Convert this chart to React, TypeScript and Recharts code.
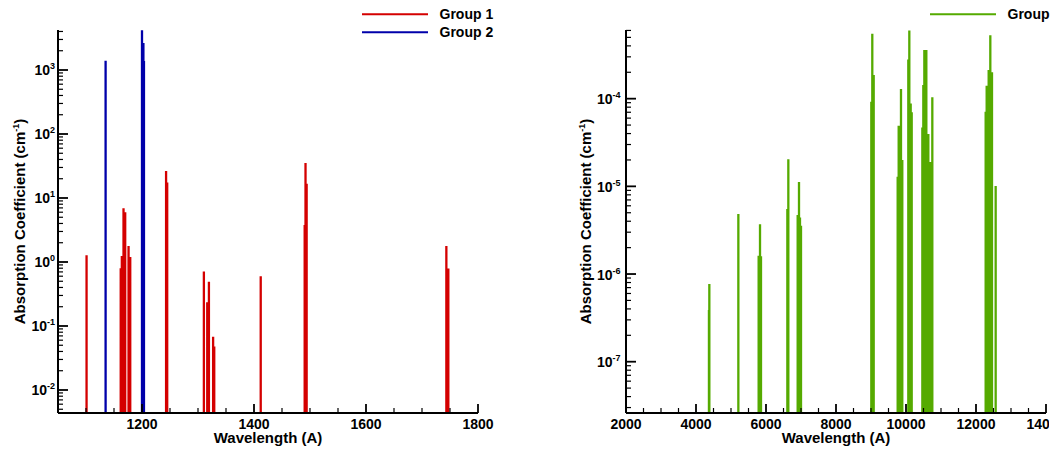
import { LineChart, Line, XAxis, YAxis, Label } from 'recharts';

const FONT = '"Liberation Sans", Arial, Helvetica, sans-serif';

// left panel, group 1 lines (wavelength A, absorption cm^-1)
const G1_WAVELENGTH = [1101, 1162, 1164, 1167, 1170, 1176, 1179, 1243, 1245, 1310.5, 1316.5, 1319.5, 1327, 1329, 1412, 1490.5, 1492, 1494, 1743.5, 1747];
const G1_COEFF = [1.27, 0.8, 1.24, 6.9, 6.0, 1.78, 1.2, 26.5, 17.4, 0.71, 0.235, 0.49, 0.068, 0.048, 0.6, 3.8, 35.2, 16.7, 1.78, 0.79];

// left panel, group 2 lines
const G2_WAVELENGTH = [1135, 1200, 1202.5, 1203.5];
const G2_COEFF = [1400, 4170, 2650, 1380];

// right panel, single group
const GR_WAVELENGTH = [
  4370, 4381, 5210, 5790, 5829, 5857, 6610, 6638, 6905, 6943, 6971, 7000,
  9009, 9037, 9077, 9762, 9791, 9809, 9857, 9894, 10066, 10095, 10134, 10163,
  10467, 10495, 10524, 10552, 10581, 10638, 10686, 10752,
  12276, 12305, 12362, 12409, 12457, 12562,
];
const GR_COEFF = [
  3.9e-7, 7.7e-7, 4.84e-6, 1.62e-6, 3.7e-6, 1.6e-6, 5.5e-6, 2.04e-5, 4.7e-6, 1.12e-5, 4.4e-6, 3.55e-6,
  9.2e-5, 5.5e-4, 1.86e-4, 1.29e-5, 4.9e-5, 2.04e-5, 1.29e-4, 2.0e-5, 2.8e-4, 6.0e-4, 8.8e-5, 7.0e-5,
  4.7e-5, 1.43e-4, 3.6e-4, 3.6e-4, 3.6e-4, 3.96e-5, 1.9e-5, 1.04e-4,
  7.1e-5, 1.4e-4, 2.12e-4, 5.3e-4, 2.0e-4, 1.01e-5,
];

// axes
const LEFT_X_DOMAIN = [1050, 1800];
const LEFT_X_MAJOR = [1200, 1400, 1600, 1800];
const LEFT_X_MINOR = [1100, 1150, 1250, 1300, 1350, 1450, 1500, 1550, 1650, 1700, 1750];
const LEFT_Y_DOMAIN = [0.00437, 4217];
const LEFT_Y_DECADES = [-3, -2, -1, 0, 1, 2, 3];

const RIGHT_X_DOMAIN = [2000, 14000];
const RIGHT_X_MAJOR = [2000, 4000, 6000, 8000, 10000, 12000, 14000];
const RIGHT_X_MINOR = [2500, 3000, 3500, 4500, 5000, 5500, 6500, 7000, 7500, 8500, 9000, 9500, 10500, 11000, 11500, 12500, 13000, 13500];
const RIGHT_Y_DOMAIN = [2.6e-8, 6.07e-4];
const RIGHT_Y_DECADES = [-8, -7, -6, -5, -4];

const RED = '#d40000';
const BLUE = '#0000aa';
const GREEN = '#55aa00';

// each line becomes a vertical spike rising from below the axis floor
function spikes(wl: number[], k: number[], floor: number) {
  const pts: { x: number; y: number }[] = [];
  wl.forEach((w, i) => {
    pts.push({ x: w, y: floor }, { x: w, y: k[i] }, { x: w, y: floor });
  });
  return pts;
}

function logTicks(decades: number[], domain: number[]) {
  const out: number[] = [];
  decades.forEach((d) => {
    for (let m = 1; m <= 9; m++) {
      const v = m * Math.pow(10, d);
      if (v >= domain[0] && v <= domain[1]) out.push(v);
    }
  });
  return out;
}

const makeYTick = (gap: number) => (props: any) => {
  const { x, y, payload } = props;
  const e = Math.log10(payload.value);
  const major = Math.abs(e - Math.round(e)) < 1e-6;
  return (
    <g>
      <line x1={x} y1={y} x2={x + (major ? 10 : 5)} y2={y} stroke="#000" strokeWidth={major ? 1.8 : 1.2} />
      {major && (
        <text x={x - gap} y={y + 5.5} textAnchor="end" fontFamily={FONT} fontWeight="bold" fontSize={14} fill="#000">
          10<tspan dy={-6} fontSize={9}>{String(Math.round(e))}</tspan>
        </text>
      )}
    </g>
  );
};

const makeXTick = (majors: number[]) => (props: any) => {
  const { x, y, payload } = props;
  const major = majors.includes(payload.value);
  return (
    <g>
      <line x1={x} y1={y} x2={x} y2={y - (major ? 9 : 5)} stroke="#000" strokeWidth={major ? 1.8 : 1.2} />
      {major && (
        <text x={x} y={y + 16} textAnchor="middle" fontFamily={FONT} fontWeight="bold" fontSize={14} fill="#000">
          {payload.value}
        </text>
      )}
    </g>
  );
};

const XTitle = (props: any) => {
  const vb = props.viewBox;
  return (
    <text x={vb.x + vb.width / 2} y={vb.y + 30} textAnchor="middle" fontFamily={FONT} fontWeight="bold" fontSize={15} fill="#000">
      Wavelength (A)
    </text>
  );
};

const makeYTitle = (baseX: number) => (props: any) => {
  const vb = props.viewBox;
  const cx = vb.x + baseX;
  const cy = vb.y + vb.height / 2;
  return (
    <text x={cx} y={cy} transform={`rotate(-90, ${cx}, ${cy})`} textAnchor="middle" fontFamily={FONT} fontWeight="bold" fontSize={15} fill="#000">
      Absorption Coefficient (cm<tspan dy={-6} fontSize={9}>-1</tspan><tspan dy={6}>)</tspan>
    </text>
  );
};

const axisLine = { stroke: '#000', strokeWidth: 2 };

export default function App() {
  const g1 = spikes(G1_WAVELENGTH, G1_COEFF, 1e-4);
  const g2 = spikes(G2_WAVELENGTH, G2_COEFF, 1e-4);
  const gr = spikes(GR_WAVELENGTH, GR_COEFF, 1e-9);

  return (
    <div style={{ position: 'absolute', left: 0, top: 0, width: 1057, height: 455, background: '#fff', overflow: 'hidden' }}>
      <div style={{ position: 'absolute', left: 0, top: 0, width: 520, height: 455, overflow: 'hidden' }}>
        <LineChart width={520} height={455} margin={{ top: 30, right: 42, bottom: 12, left: 0 }}>
          <XAxis
            type="number"
            dataKey="x"
            domain={LEFT_X_DOMAIN}
            allowDataOverflow
            ticks={[...LEFT_X_MAJOR, ...LEFT_X_MINOR].sort((a, b) => a - b)}
            interval={0}
            height={30}
            tickSize={0}
            tickMargin={0}
            tickLine={false}
            axisLine={axisLine}
            tick={makeXTick(LEFT_X_MAJOR)}
          >
            <Label content={XTitle} />
          </XAxis>
          <YAxis
            type="number"
            scale="log"
            domain={LEFT_Y_DOMAIN}
            allowDataOverflow
            ticks={logTicks(LEFT_Y_DECADES, LEFT_Y_DOMAIN)}
            interval={0}
            width={58}
            tickSize={0}
            tickMargin={0}
            tickLine={false}
            axisLine={axisLine}
            tick={makeYTick(3)}
          >
            <Label content={makeYTitle(24.5)} />
          </YAxis>
          <Line data={g1} dataKey="y" stroke={RED} strokeWidth={2.3} dot={false} isAnimationActive={false} />
          <Line data={g2} dataKey="y" stroke={BLUE} strokeWidth={2.3} dot={false} isAnimationActive={false} />
        </LineChart>
      </div>

      <div style={{ position: 'absolute', left: 540, top: 0, width: 509, height: 455, overflow: 'hidden' }}>
        <LineChart width={509} height={455} margin={{ top: 30, right: 3, bottom: 12, left: 0 }}>
          <XAxis
            type="number"
            dataKey="x"
            domain={RIGHT_X_DOMAIN}
            allowDataOverflow
            ticks={[...RIGHT_X_MAJOR, ...RIGHT_X_MINOR].sort((a, b) => a - b)}
            interval={0}
            height={30}
            tickSize={0}
            tickMargin={0}
            tickLine={false}
            axisLine={axisLine}
            tick={makeXTick(RIGHT_X_MAJOR)}
          >
            <Label content={XTitle} />
          </XAxis>
          <YAxis
            type="number"
            scale="log"
            domain={RIGHT_Y_DOMAIN}
            allowDataOverflow
            ticks={logTicks(RIGHT_Y_DECADES, RIGHT_Y_DOMAIN)}
            interval={0}
            width={86}
            tickSize={0}
            tickMargin={0}
            tickLine={false}
            axisLine={axisLine}
            tick={makeYTick(5.5)}
          >
            <Label content={makeYTitle(51)} />
          </YAxis>
          <Line data={gr} dataKey="y" stroke={GREEN} strokeWidth={2.3} dot={false} isAnimationActive={false} />
        </LineChart>
      </div>

      {/* legends */}
      <svg width={1057} height={455} style={{ position: 'absolute', left: 0, top: 0, pointerEvents: 'none' }}>
        <g fontFamily={FONT} fontWeight="bold" fontSize={14} fill="#000">
          <line x1={362} y1={14.3} x2={428} y2={14.3} stroke={RED} strokeWidth={2} />
          <text x={439.5} y={19}>Group 1</text>
          <line x1={362} y1={32.3} x2={428} y2={32.3} stroke={BLUE} strokeWidth={2} />
          <text x={439.5} y={37}>Group 2</text>
          <line x1={930} y1={14.3} x2={996} y2={14.3} stroke={GREEN} strokeWidth={2} />
          <text x={1007.5} y={19}>Group</text>
        </g>
      </svg>
    </div>
  );
}
